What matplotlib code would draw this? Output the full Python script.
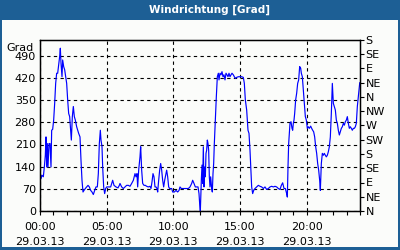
import numpy as np
import matplotlib
matplotlib.use("Agg")
import matplotlib.pyplot as plt
from matplotlib.patches import Rectangle

# Wind direction in degrees, 29.03.13 (hours since 00:00)
hours = [
    0.0, 0.075, 0.15, 0.25, 0.325, 0.4, 0.45, 0.5, 0.55, 0.6, 0.675, 0.75, 0.825, 0.875, 0.95,
    1.025, 1.1, 1.175, 1.25, 1.325, 1.4, 1.475, 1.525, 1.575, 1.65, 1.7, 1.775, 1.85, 1.925,
    2.0, 2.075, 2.15, 2.225, 2.3, 2.35, 2.425, 2.5, 2.575, 2.65, 2.75, 2.825, 2.9,
    3.0, 3.075, 3.15, 3.225, 3.3, 3.4, 3.5, 3.6, 3.7, 3.8, 3.9,
    4.0, 4.1, 4.2, 4.3, 4.375, 4.45, 4.525, 4.575, 4.65, 4.7, 4.775, 4.85, 4.925,
    5.0, 5.15, 5.3, 5.45, 5.55, 5.7, 5.85, 5.95,
    6.0, 6.125, 6.25, 6.375, 6.5, 6.625, 6.75, 6.875, 7.0, 7.125, 7.2, 7.275, 7.325, 7.4,
    7.5, 7.55, 7.625, 7.7, 7.8, 7.9, 8.0, 8.125, 8.25, 8.325, 8.4, 8.475, 8.55, 8.625,
    8.7, 8.775, 8.825, 8.9, 8.975, 9.05, 9.125, 9.2, 9.275, 9.35, 9.425, 9.5, 9.575,
    9.65, 9.725, 9.875, 9.95, 10.075, 10.2, 10.325, 10.425, 10.5, 10.6, 10.75, 10.875,
    11.0, 11.125, 11.25, 11.375, 11.45, 11.55, 11.65, 11.75, 11.85, 11.925, 11.975,
    12.025, 12.1, 12.15, 12.2, 12.25, 12.3, 12.35, 12.4, 12.45, 12.5, 12.55, 12.6, 12.65,
    12.7, 12.75, 12.8, 12.875, 12.925, 12.975, 13.025, 13.075, 13.15, 13.225, 13.3,
    13.375, 13.425, 13.5, 13.575, 13.65, 13.725, 13.8, 13.875, 13.95, 14.025, 14.1,
    14.175, 14.25, 14.325, 14.4, 14.5, 14.575, 14.65, 14.75, 14.875, 15.0, 15.125,
    15.25, 15.325, 15.4, 15.5, 15.6, 15.675, 15.75, 15.825, 15.875, 15.95, 16.025,
    16.125, 16.25, 16.375, 16.5, 16.625, 16.75, 16.875, 17.0, 17.125, 17.25, 17.375,
    17.5, 17.625, 17.75, 17.875,
    18.0, 18.1, 18.2, 18.3, 18.4, 18.5, 18.55, 18.6, 18.65, 18.75, 18.825, 18.9, 18.95,
    19.0, 19.05, 19.1, 19.175, 19.25, 19.325, 19.4, 19.475, 19.55, 19.6, 19.675, 19.75,
    19.825, 19.9, 19.975, 20.05, 20.125, 20.2, 20.3, 20.375, 20.45, 20.525, 20.6,
    20.675, 20.75, 20.825, 20.9, 20.975, 21.025, 21.1, 21.175, 21.25, 21.325, 21.4,
    21.475, 21.55, 21.625, 21.7, 21.775, 21.85, 21.925, 22.0, 22.075, 22.15, 22.225,
    22.3, 22.375, 22.45, 22.525, 22.6, 22.675, 22.75, 22.825, 22.9, 22.975, 23.05,
    23.125, 23.2, 23.275, 23.35, 23.425, 23.5, 23.575, 23.65, 23.725, 23.8, 23.875,
    23.95, 23.98,
]
degrees = [
    129, 102, 113, 108, 139, 176, 234, 139, 213, 139, 213, 213, 139, 255, 258,
    287, 340, 403, 435, 435, 461, 488, 514, 467, 424, 477, 456, 446, 424,
    403, 351, 308, 298, 255, 224, 298, 330, 298, 287, 266, 255, 245,
    234, 160, 97, 60, 65, 71, 76, 81, 76, 65, 60,
    52, 65, 76, 76, 118, 213, 255, 224, 203, 139, 76, 55, 71,
    76, 76, 76, 97, 81, 76, 73, 81,
    87, 76, 71, 76, 81, 81, 78, 87, 97, 118, 108, 118, 76, 129,
    171, 203, 129, 87, 81, 81, 78, 76, 78, 71, 92, 118, 108, 76,
    76, 71, 60, 97, 129, 150, 129, 97, 76, 97, 113, 129, 108,
    76, 71, 71, 60, 60, 65, 60, 65, 76, 71, 71, 71,
    71, 71, 76, 87, 97, 87, 76, 76, 76, 55, 23,
    0, 97, 145, 87, 203, 76, 139, 108, 182, 192, 224, 213, 192,
    108, 76, 108, 71, 60, 118, 150, 213, 287, 361, 424,
    435, 414, 435, 430, 440, 424, 430, 414, 435, 430, 424,
    435, 424, 430, 435, 430, 424, 419, 422, 424, 424, 424,
    422, 403, 351, 319, 255, 245, 192, 118, 76, 55, 65,
    71, 76, 81, 78, 76, 71, 76, 68, 71, 76, 78,
    76, 78, 76, 71,
    68, 81, 89, 71, 71, 55, 44, 139, 213, 277, 282, 261, 255,
    277, 287, 308, 351, 372, 403, 414, 456, 451, 435, 424, 382,
    340, 298, 287, 261, 266, 261, 268, 261, 255, 250, 234,
    203, 182, 150, 129, 97, 65, 150, 182, 176, 182, 176,
    171, 176, 187, 203, 234, 308, 403, 340, 330, 319, 287,
    277, 255, 240, 250, 261, 266, 277, 271, 282, 287, 298,
    277, 261, 266, 261, 255, 261, 261, 266, 277, 330, 361,
    393, 405,
]

left_ticks = [0, 70, 140, 210, 280, 350, 420, 490]
right_ticks = list(range(0, 541, 45))
right_labels = ["N", "NE", "E", "SE", "S", "SW", "W", "NW", "N", "NE", "E", "SE", "S"]
x_ticks = [0, 5, 10, 15, 20]
x_labels = ["00:00\n29.03.13", "05:00\n29.03.13", "10:00\n29.03.13",
            "15:00\n29.03.13", "20:00\n29.03.13"]

BAR = "#1d5f95"
BG = "#fbfcfa"

plt.rcParams["font.family"] = "DejaVu Sans"
fig = plt.figure(figsize=(4, 2.5), dpi=100, facecolor=BG)

# title bar and frame
fig.add_artist(Rectangle((0, 0.92), 1, 0.08, transform=fig.transFigure, color=BAR, lw=0))
fig.add_artist(Rectangle((0, 0), 0.006, 1, transform=fig.transFigure, color=BAR, lw=0))
fig.add_artist(Rectangle((0.995, 0), 0.005, 1, transform=fig.transFigure, color=BAR, lw=0))
fig.add_artist(Rectangle((0, 0), 1, 0.012, transform=fig.transFigure, color=BAR, lw=0))
fig.text(0.523, 0.96, "Windrichtung [Grad]", color="white", fontsize=7.5,
         fontweight="bold", ha="center", va="center")

ax = fig.add_axes([0.1, 0.156, 0.8, 0.684])
ax.set_facecolor(BG)
ax.plot(hours, degrees, color="#0000ff", lw=0.85)
ax.set_xlim(0, 24)
ax.set_ylim(0, 540)

ax.set_yticks(left_ticks)
ax.set_yticklabels([str(v) for v in left_ticks], fontsize=8)
ax.tick_params(axis="y", length=0, pad=3)
ax.set_xticks(x_ticks)
ax.set_xticklabels(x_labels, fontsize=8, linespacing=1.55)
ax.set_xticks(range(0, 25), minor=True)
ax.tick_params(axis="x", which="both", direction="out", length=3, width=0.8, pad=5)
ax.grid(True, color="black", linestyle=(0, (3, 3)), linewidth=0.8)
for s in ax.spines.values():
    s.set_linewidth(1.0)
ax.text(-0.02, 0.955, "Grad", transform=ax.transAxes, fontsize=8,
        ha="right", va="center")

ax2 = ax.twinx()
ax2.set_ylim(0, 540)
ax2.set_yticks(right_ticks)
ax2.set_yticklabels(right_labels, fontsize=8)
ax2.tick_params(axis="y", direction="out", length=3, width=0.8, pad=1)

fig.savefig("out.png", dpi=100, facecolor=BG)
